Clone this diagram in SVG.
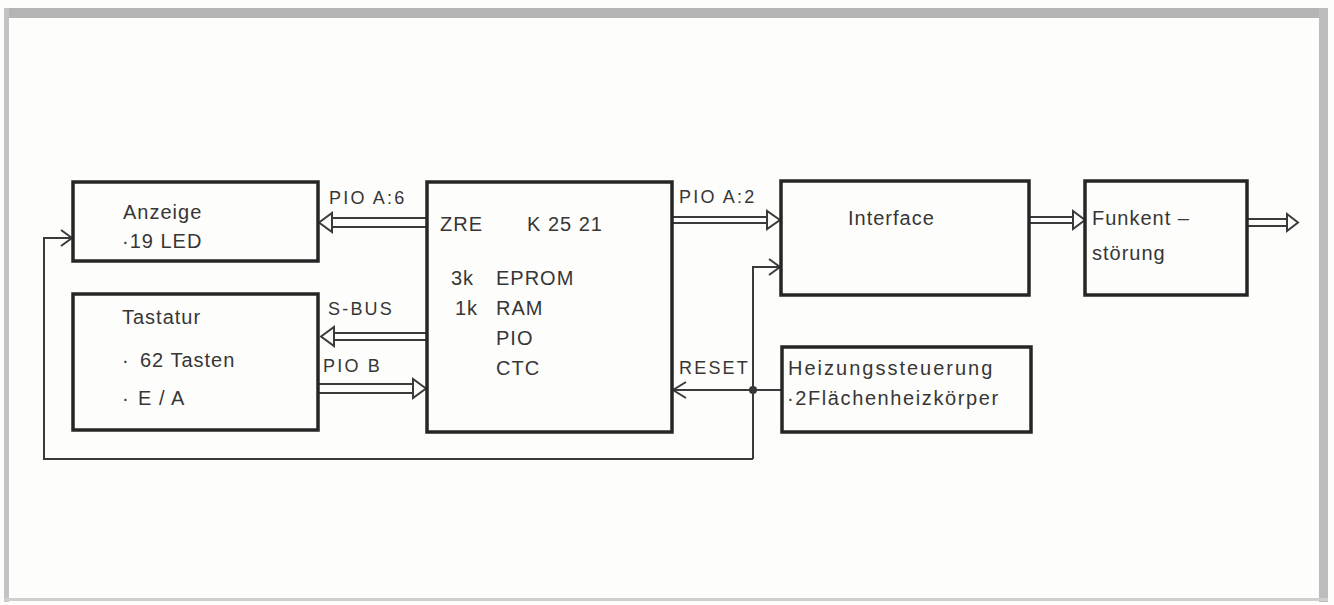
<svg xmlns="http://www.w3.org/2000/svg" width="1334" height="605" viewBox="0 0 1334 605">
<style>
.box{fill:none;stroke:#262626;stroke-width:3.5}
.ln{fill:none;stroke:#3a3a3a;stroke-width:2}
.ah{fill:#fdfdfb;stroke:#3a3a3a;stroke-width:2;stroke-linejoin:miter}
.t{font-family:"Liberation Sans",Arial,sans-serif;font-size:20px;fill:#363636;letter-spacing:1px}
.l{font-family:"Liberation Sans",Arial,sans-serif;font-size:18px;fill:#363636;letter-spacing:2.2px}
</style>
<rect x="0" y="0" width="1334" height="605" fill="#fdfdfb"/>
<g id="frame">
<rect x="4" y="8" width="1324" height="10" fill="#b4b4b4"/>
<rect x="4" y="8" width="5" height="594" fill="#c4c4c4"/>
<rect x="1319" y="8" width="9" height="594" fill="#bdbdbd"/>
<rect x="4" y="598" width="1324" height="3" fill="#cfcfcf"/>
</g>
<g id="connectors">
<path class="ln" d="M331 218H427M331 227H427"/>
<polygon class="ah" points="319,222.5 332,213 332,232"/>
<path class="ln" d="M334 333H427M334 340H427"/>
<polygon class="ah" points="321,336.5 334,327 334,346"/>
<path class="ln" d="M318 384H414M318 393H414"/>
<polygon class="ah" points="426,388.5 413,379 413,398"/>
<path class="ln" d="M672 217H768M672 223H768"/>
<polygon class="ah" points="780,220 767,211 767,229"/>
<path class="ln" d="M1029 217H1074M1029 223H1074"/>
<polygon class="ah" points="1085,220 1073,211 1073,229"/>
<path class="ln" d="M1247 219H1288M1247 226H1288"/>
<polygon class="ah" points="1298,222.5 1287,214 1287,231"/>
<path class="ln" d="M782 390H673"/>
<path class="ln" d="M686 382L673 390L686 398"/>
<circle cx="753" cy="390" r="4" fill="#333"/>
<path class="ln" d="M753 459V267H780"/>
<path class="ln" d="M769 259L780 267L769 275"/>
<path class="ln" d="M753 459H44V238H72"/>
<path class="ln" d="M61 230L72 238L61 246"/>
</g>
<g id="anzeige">
<rect class="box" x="73" y="182" width="245" height="79"/>
<text class="t" x="123" y="219">Anzeige</text>
<text class="t" x="122" y="248">·19 LED</text>
</g>
<g id="tastatur">
<rect class="box" x="73" y="294" width="245" height="136"/>
<text class="t" x="122" y="324">Tastatur</text>
<text class="t" x="122" y="367">·</text>
<text class="t" x="140" y="367">62 Tasten</text>
<text class="t" x="122" y="405">·</text>
<text class="t" x="138" y="405">E / A</text>
</g>
<g id="zre">
<rect class="box" x="427" y="182" width="245" height="250"/>
<text class="t" x="440" y="231">ZRE</text>
<text class="t" x="527" y="231">K 25 21</text>
<text class="t" x="451" y="285">3k</text>
<text class="t" x="496" y="285">EPROM</text>
<text class="t" x="455" y="315">1k</text>
<text class="t" x="496" y="315">RAM</text>
<text class="t" x="496" y="345">PIO</text>
<text class="t" x="496" y="375">CTC</text>
</g>
<g id="interface">
<rect class="box" x="781" y="181" width="248" height="114"/>
<text class="t" x="848" y="225">Interface</text>
</g>
<g id="funkent">
<rect class="box" x="1085" y="181" width="162" height="114"/>
<text class="t" x="1092" y="225">Funkent –</text>
<text class="t" x="1092" y="260">störung</text>
</g>
<g id="heizung">
<rect class="box" x="782" y="347" width="249" height="85"/>
<text class="t" x="788" y="375" style="letter-spacing:2px">Heizungssteuerung</text>
<text class="t" x="787" y="405" style="letter-spacing:1.6px">·2Flächenheizkörper</text>
</g>
<g id="labels">
<text class="l" x="329" y="204">PIO  A:6</text>
<text class="l" x="328" y="315">S-BUS</text>
<text class="l" x="323" y="372">PIO  B</text>
<text class="l" x="679" y="203">PIO  A:2</text>
<text class="l" x="679" y="374">RESET</text>
</g>
</svg>
